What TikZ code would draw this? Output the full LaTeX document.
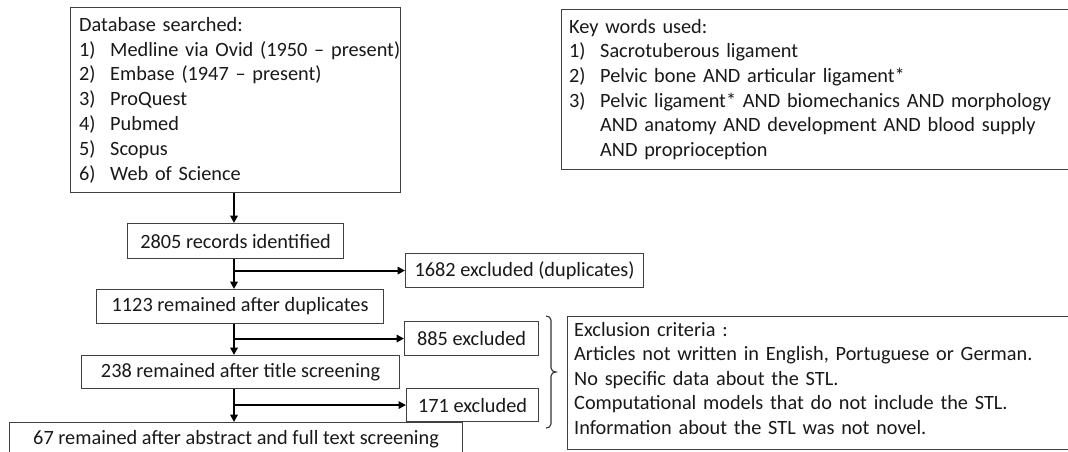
\documentclass[tikz,border=0pt]{standalone}
\usepackage{fontspec}
\setmainfont{Carlito}
\usetikzlibrary{arrows.meta}
\newcommand{\itm}[1]{\makebox[31pt][l]{#1}}
\newcommand{\firstline}{\rule{0pt}{17pt}}
\begin{document}
\begin{tikzpicture}[x=1pt,y=-1pt,
  box/.style={draw=black!75, line width=1.1pt, inner sep=0pt, anchor=north west,
    font=\fontsize{20.3}{24.7}\selectfont, text=black!90},
  listtext/.style={anchor=north west, inner sep=0pt, align=left, text width=#1,
    text=black!90},
  flow/.style={draw=black, line width=1.9pt, -{Triangle[length=7.5pt,width=7.5pt]}},
  bracket/.style={draw=black!80, line width=1.1pt}]
\useasboundingbox (0,0) rectangle (1068,451);
\clip (0,0) rectangle (1068,451);
\fill[white] (0,0) rectangle (1068,451);

% top boxes
\node[box, minimum width=330, minimum height=185] (db) at (70,7) {};
\node[listtext=400pt, font=\fontsize{20.3}{24.8}\selectfont] (dbtext) at (79,14)
  {\firstline Database searched:\\
  \itm{1)}Medline via Ovid (1950 -- present)\\
  \itm{2)}Embase (1947 -- present)\\
  \itm{3)}ProQuest\\
  \itm{4)}Pubmed\\
  \itm{5)}Scopus\\
  \itm{6)}Web of Science};

\node[box, minimum width=530, minimum height=160] (kw) at (561,9) {};
\node[listtext=600pt, font=\fontsize{20.3}{24.6}\selectfont] (kwtext) at (569,16)
  {\firstline Key words used:\\
  \itm{1)}Sacrotuberous ligament\\
  \itm{2)}Pelvic bone AND articular ligament*\\
  \itm{3)}Pelvic ligament* AND biomechanics AND morphology\\
  \itm{}AND anatomy AND development AND blood supply\\
  \itm{}AND proprioception};

% flow boxes
\node[box, minimum width=216, minimum height=35] (n2805) at (127,223) {2805 records identified};
\node[box, minimum width=287, minimum height=34] (n1123) at (96,289) {1123 remained after duplicates};
\node[box, minimum width=318, minimum height=33] (n238) at (81,355) {238 remained after title screening};
\node[box, minimum width=453, minimum height=34] (n67) at (9,422) {67 remained after abstract and full text screening};

\node[box, minimum width=238, minimum height=34] (n1682) at (405,253) {1682 excluded (duplicates)};
\node[box, minimum width=134, minimum height=34] (n885) at (404,321) {885 excluded};
\node[box, minimum width=132, minimum height=33] (n171) at (406,388) {171 excluded};

\node[box, minimum width=530, minimum height=133] (ex) at (567,316) {};
\node[listtext=600pt, font=\fontsize{20.3}{24.5}\selectfont] (extext) at (574,319)
  {\firstline Exclusion criteria :\\
  Articles not written in English, Portuguese or German.\\
  No specific data about the STL.\\
  Computational models that do not include the STL.\\
  Information about the STL was not novel.};

% trunk
\coordinate (t) at (234,0);
\draw[flow] (t |- db.south) -- (t |- n2805.north);
\draw[flow] (t |- n2805.south) -- (t |- n1123.north);
\draw[flow] (t |- n1123.south) -- (t |- n238.north);
\draw[flow] (t |- n238.south) -- (t |- n67.north);

\draw[flow] (t |- n1682.west) -- (n1682.west);
\draw[flow] (t |- n885.west) -- (n885.west);
\draw[flow] (t |- n171.west) -- (n171.west);

% bracket
\draw[bracket] (546,316) to[out=0,in=90] (551,320) -- (551,368)
  to[out=-90,in=180] (556,372) to[out=180,in=90] (551,376) -- (551,424)
  to[out=-90,in=0] (546,428);
\end{tikzpicture}
\end{document}
